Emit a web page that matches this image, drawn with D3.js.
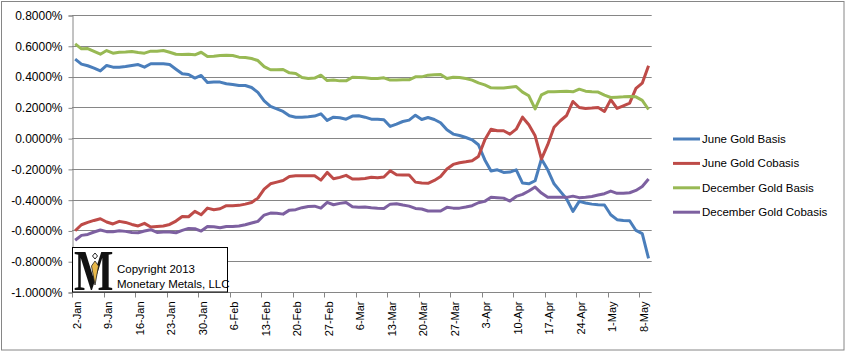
<!DOCTYPE html>
<html>
<head>
<meta charset="utf-8">
<script src="https://cdn.jsdelivr.net/npm/d3@7"></script>
<style>
  body { margin: 0; background: #fff; }
  svg { display: block; font-family: "Liberation Sans", Arial, sans-serif; }
  .grid line { stroke: #868686; stroke-width: 1; }
  .series { fill: none; stroke-width: 3; stroke-linejoin: round; stroke-linecap: butt; }
</style>
</head>
<body>
<div class="basis-chart"></div>
<script>
'use strict';

// trading days, 2-Jan-2013 .. 9-May-2013 (weekdays)
var firstDay = new Date(2013, 0, 2),
    lastDay = new Date(2013, 4, 10);

var yTicks = [-1.0, -0.8, -0.6, -0.4, -0.2, 0, 0.2, 0.4, 0.6, 0.8];

var seriesNames = ['June Gold Basis', 'June Gold Cobasis', 'December Gold Basis', 'December Gold Cobasis'];
var seriesColors = ['#4a7ebb', '#be4b48', '#98b954', '#7d60a0'];

var juneBasis = [
  0.513, 0.481, 0.470, 0.455, 0.437, 0.472, 0.461, 0.461, 0.465, 0.472, 0.478, 0.461, 0.483, 0.483, 0.483, 0.478, 0.448, 0.418, 0.413, 0.390, 0.407, 0.361, 0.364,
  0.364, 0.353, 0.348, 0.342, 0.342, 0.329, 0.297, 0.242, 0.206, 0.190, 0.173, 0.145, 0.136, 0.136, 0.139, 0.143, 0.158, 0.115, 0.136, 0.132, 0.123, 0.143, 0.145,
  0.136, 0.123, 0.123, 0.119, 0.076, 0.091, 0.108, 0.117, 0.149, 0.121, 0.134, 0.121, 0.100, 0.054, 0.026, 0.017, 0.004, -0.011, -0.043, -0.140, -0.214, -0.206, -0.223,
  -0.221, -0.206, -0.292, -0.297, -0.277, -0.136, -0.206, -0.297, -0.346, -0.396, -0.476, -0.411, -0.422, -0.429, -0.433, -0.435, -0.498, -0.530, -0.535, -0.537, -0.600, -0.621, -0.782
];

var juneCobasis = [
  -0.602, -0.563, -0.548, -0.535, -0.524, -0.545, -0.558, -0.541, -0.548, -0.561, -0.571, -0.554, -0.578, -0.574, -0.571, -0.561, -0.539, -0.509, -0.511, -0.476, -0.498, -0.455, -0.465,
  -0.459, -0.439, -0.439, -0.437, -0.429, -0.418, -0.390, -0.331, -0.297, -0.286, -0.275, -0.249, -0.245, -0.245, -0.245, -0.245, -0.273, -0.223, -0.264, -0.255, -0.242, -0.266, -0.266,
  -0.262, -0.255, -0.258, -0.253, -0.212, -0.238, -0.240, -0.240, -0.286, -0.292, -0.294, -0.275, -0.249, -0.201, -0.171, -0.160, -0.154, -0.147, -0.119, -0.013, 0.058, 0.048, 0.048,
  0.026, 0.058, 0.136, 0.087, 0.015, -0.136, -0.043, 0.071, 0.113, 0.147, 0.238, 0.199, 0.193, 0.195, 0.199, 0.173, 0.250, 0.193, 0.210, 0.227, 0.323, 0.357, 0.470
];

var decBasis = [
  0.612, 0.580, 0.582, 0.563, 0.545, 0.569, 0.552, 0.558, 0.560, 0.563, 0.556, 0.552, 0.565, 0.565, 0.569, 0.558, 0.545, 0.543, 0.545, 0.541, 0.558, 0.530, 0.532,
  0.537, 0.539, 0.537, 0.526, 0.524, 0.517, 0.504, 0.465, 0.444, 0.444, 0.446, 0.424, 0.420, 0.394, 0.387, 0.390, 0.409, 0.374, 0.377, 0.372, 0.372, 0.396, 0.394,
  0.392, 0.387, 0.387, 0.392, 0.377, 0.377, 0.379, 0.379, 0.398, 0.398, 0.409, 0.411, 0.413, 0.387, 0.396, 0.394, 0.387, 0.377, 0.359, 0.346, 0.327, 0.325, 0.325,
  0.331, 0.335, 0.299, 0.275, 0.190, 0.281, 0.301, 0.301, 0.303, 0.305, 0.301, 0.318, 0.305, 0.301, 0.299, 0.279, 0.264, 0.266, 0.268, 0.271, 0.268, 0.245, 0.186
];

var decCobasis = [
  -0.664, -0.632, -0.626, -0.610, -0.597, -0.608, -0.608, -0.602, -0.606, -0.613, -0.615, -0.604, -0.595, -0.613, -0.610, -0.610, -0.615, -0.600, -0.587, -0.589, -0.604, -0.574, -0.576,
  -0.582, -0.574, -0.574, -0.571, -0.563, -0.552, -0.541, -0.500, -0.487, -0.489, -0.494, -0.468, -0.465, -0.452, -0.444, -0.442, -0.455, -0.418, -0.433, -0.424, -0.418, -0.446, -0.450,
  -0.448, -0.452, -0.455, -0.457, -0.429, -0.426, -0.435, -0.442, -0.457, -0.461, -0.474, -0.474, -0.474, -0.450, -0.455, -0.455, -0.448, -0.439, -0.420, -0.411, -0.385, -0.387, -0.390,
  -0.409, -0.379, -0.366, -0.344, -0.318, -0.357, -0.385, -0.385, -0.385, -0.385, -0.377, -0.387, -0.385, -0.379, -0.370, -0.361, -0.344, -0.359, -0.359, -0.355, -0.340, -0.314, -0.266
];

var days = d3.timeDay.range(firstDay, lastDay).filter(function (d) {
  return d.getDay() !== 0 && d.getDay() !== 6;
});

var width = 846,
    height = 352,
    plot = { left: 72, right: 651.7, top: 15, bottom: 292 },
    fmtDay = d3.timeFormat('%-d-%b');

var x = d3.scaleBand().domain(d3.range(days.length)).range([plot.left, plot.right]).padding(0),
    y = d3.scaleLinear().domain([-1.0, 0.8]).range([plot.bottom, plot.top]),
    bw = x.bandwidth();

var svg = d3.select('.basis-chart').append('svg').attr('width', width).attr('height', height);

// outer chart frame
svg.append('rect').attr('x', 1.5).attr('y', 1.5).attr('width', width - 3.5).attr('height', height - 3.5)
  .attr('fill', '#fff').attr('stroke', '#868686');

// gridlines
svg.append('g').attr('class', 'grid').selectAll('line').data(yTicks.slice(1)).enter().append('line')
  .attr('x1', plot.left).attr('x2', plot.right)
  .attr('y1', function (d) { return Math.round(y(d)) + 0.5; })
  .attr('y2', function (d) { return Math.round(y(d)) + 0.5; });

// y axis
var yAxis = d3.axisLeft(y).tickValues(yTicks).tickSize(4).tickPadding(6)
  .tickFormat(function (d) { return d.toFixed(4) + '%'; });
var yG = svg.append('g').attr('transform', 'translate(' + (plot.left + 0.5) + ',0.5)').call(yAxis);
yG.select('.domain').attr('stroke', '#868686');
yG.selectAll('.tick line').attr('stroke', '#868686');
yG.selectAll('.tick text').attr('fill', '#000').style('font-size', '12px');

// x axis: tick marks every 5 trading days, labels on the Wednesdays
var xBase = Math.round(y(-1.0)) + 0.5;
var xG = svg.append('g');
xG.append('line').attr('x1', plot.left).attr('x2', plot.right).attr('y1', xBase).attr('y2', xBase).attr('stroke', '#868686');
var labelled = d3.range(0, days.length, 5);
xG.selectAll('line.tick').data(labelled).enter().append('line').attr('class', 'tick')
  .attr('x1', function (i) { return Math.round(x(i)) + 0.5; })
  .attr('x2', function (i) { return Math.round(x(i)) + 0.5; })
  .attr('y1', xBase).attr('y2', xBase + 5).attr('stroke', '#868686');
xG.selectAll('text').data(labelled).enter().append('text')
  .attr('transform', function (i) { return 'translate(' + (x(i) + bw / 2) + ',' + (xBase + 9) + ') rotate(-90)'; })
  .attr('text-anchor', 'end').attr('dy', '0.5em')
  .style('font-size', '11px').attr('fill', '#000')
  .text(function (i) { return fmtDay(days[i]); });

// series lines
var allSeries = [juneBasis, juneCobasis, decBasis, decCobasis];
var line = d3.line()
  .x(function (d, i) { return x(i) + bw / 2; })
  .y(function (d) { return y(d); });

svg.append('g').selectAll('path').data(allSeries).enter().append('path')
  .attr('class', 'series')
  .attr('stroke', function (d, i) { return seriesColors[i]; })
  .attr('d', line);

// legend
var legend = svg.append('g').attr('transform', 'translate(673,139)');
var keys = legend.selectAll('g').data(seriesNames).enter().append('g')
  .attr('transform', function (d, i) { return 'translate(0,' + (i * 24.4) + ')'; });
keys.append('line').attr('x1', 0).attr('x2', 27).attr('y1', 0).attr('y2', 0)
  .attr('stroke-width', 3).attr('stroke', function (d, i) { return seriesColors[i]; });
keys.append('text').attr('x', 29).attr('dy', '0.35em').style('font-size', '11.5px').attr('fill', '#000')
  .text(function (d) { return d; });

// copyright badge
var badge = svg.append('g');
badge.append('rect').attr('x', 72.5).attr('y', 247.5).attr('width', 155).attr('height', 44.5)
  .attr('fill', '#fff').attr('stroke', '#000');
badge.append('text').attr('transform', 'translate(74,290) scale(0.72,1)')
  .style('font-family', '"Liberation Serif", "DejaVu Serif", serif').style('font-size', '58px')
  .style('font-weight', 'bold').attr('fill', '#111').text('M');
badge.append('path').attr('d', 'M95,253 L97.5,256 L95,259 L92.5,256 Z').attr('fill', '#fff').attr('stroke', '#222').attr('stroke-width', 1);
badge.append('path').attr('d', 'M91.5,266 L95,261 L98.5,266 L95,285 Z').attr('fill', '#e8b84a').attr('stroke', '#222').attr('stroke-width', 0.8);
badge.append('text').attr('x', 117).attr('y', 273).style('font-size', '11.5px').attr('fill', '#000').text('Copyright 2013');
badge.append('text').attr('x', 117).attr('y', 288).style('font-size', '11.5px').attr('fill', '#000').text('Monetary Metals, LLC');
</script>
</body>
</html>
